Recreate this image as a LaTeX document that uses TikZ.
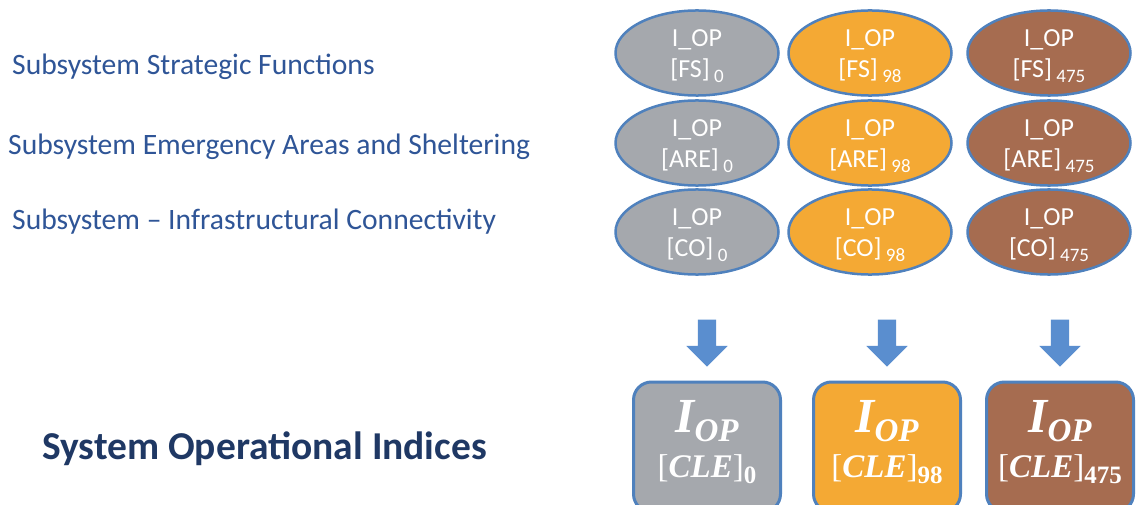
\documentclass[tikz,border=0pt]{standalone}
\usepackage{fontspec}
\setmainfont{Carlito}
\newfontfamily\idxfont{Liberation Serif}
\usetikzlibrary{shapes.geometric,shapes.arrows}

\definecolor{opgray}{HTML}{A5A8AD}
\definecolor{oporange}{HTML}{F4A934}
\definecolor{opbrown}{HTML}{A66C50}
\definecolor{rimblue}{HTML}{4F81BD}
\definecolor{arrowblue}{HTML}{5A8ECF}
\definecolor{labelblue}{HTML}{2F5597}
\definecolor{titleblue}{HTML}{1F3864}

% ellipse text: I_OP over [sub] with index
\newcommand{\subop}[2]{\rule{0pt}{24pt}I\_OP\\{[}#1{]}\,\raisebox{-5pt}{\fontsize{19}{19}\selectfont #2}}
% box text: I_OP over [CLE] with index
\newcommand{\cleop}[1]{{\idxfont\bfseries\itshape\fontsize{49}{49}\selectfont I\raisebox{-9pt}{\fontsize{33}{33}\selectfont OP}}\\[12pt]
  {\idxfont\fontsize{33}{33}\selectfont {[}{\bfseries\itshape CLE}{]}\raisebox{-6pt}{\bfseries\fontsize{25}{25}\selectfont #1}}}

\tikzset{
  subnode/.style={ellipse, draw=rimblue, line width=2.5pt, minimum width=163pt,
    minimum height=80pt, inner sep=0pt, text=white, align=center,
    font=\fontsize{26}{31}\selectfont},
  clenode/.style={rectangle, rounded corners=18pt, draw=rimblue, line width=3pt,
    minimum width=147pt, minimum height=130pt, inner sep=0pt, text=white, align=center},
  downarrow/.style={single arrow, fill=arrowblue, draw=none, rotate=-90,
    minimum height=47pt, inner sep=9pt, single arrow head extend=11.5pt},
  sublabel/.style={anchor=west, inner sep=0pt, text=labelblue,
    font=\fontsize{29.6}{34}\selectfont},
}

\begin{document}
\begin{tikzpicture}[x=1pt,y=-1pt]
  \useasboundingbox (0,0) rectangle (1138,505);
  \fill[white] (0,0) rectangle (1138,505);
  \clip (0,0) rectangle (1138,505);

  % subsystem names
  \node[sublabel] (fslabel) at (12,67) {Subsystem Strategic Functions};
  \node[sublabel] (arelabel) at (8,147) {Subsystem Emergency Areas and Sheltering};
  \node[sublabel] (colabel) at (12,222) {Subsystem – Infrastructural Connectivity};
  \node[anchor=west, inner sep=0pt, text=titleblue, font=\fontsize{39.5}{44}\selectfont\bfseries]
    (syslabel) at (42,449) {System Operational Indices};

  % one column per scenario
  \foreach \x/\bx/\c/\n in {697/707/opgray/0, 870/887/oporange/98, 1049/1060/opbrown/475}{
    \node[subnode, fill=\c] (fs\n) at (\x,53) {\subop{FS}{\n}};
    \node[subnode, fill=\c] (are\n) at (\x,143) {\subop{ARE}{\n}};
    \node[subnode, fill=\c] (co\n) at (\x,232) {\subop{CO}{\n}};
    \node[downarrow] (arr\n) at (\bx,338.5) {};
    \node[clenode, fill=\c] (cle\n) at (\bx,447) {};
    \node[text=white, align=center, inner sep=0pt] (cletext\n) at (\bx,442) {\cleop{\n}};
  }
\end{tikzpicture}
\end{document}
